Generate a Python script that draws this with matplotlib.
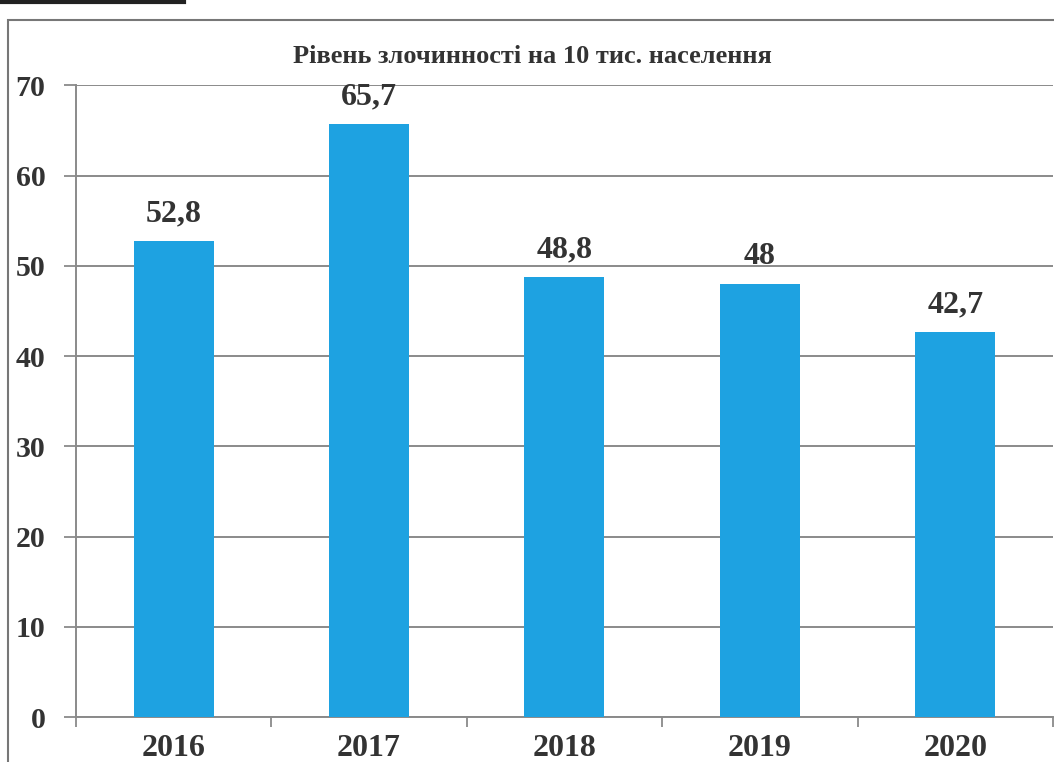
import matplotlib
matplotlib.use("Agg")
import matplotlib.pyplot as plt
from matplotlib.patches import Rectangle
from matplotlib.lines import Line2D

years = ["2016", "2017", "2018", "2019", "2020"]
values = [52.8, 65.7, 48.8, 48.0, 42.7]
value_labels = ["52,8", "65,7", "48,8", "48", "42,7"]
yticks = [0, 10, 20, 30, 40, 50, 60, 70]
title = "Рівень злочинності на 10 тис. населення"

plt.rcParams['font.family'] = ['Liberation Serif', 'DejaVu Serif']
txt = '#333333'
grid_c = '#8a8a8a'
bar_c = '#1ea2e1'

fig = plt.figure(figsize=(10.54, 7.62), dpi=100)
ax = fig.add_axes([0.072, 0.059, 0.927, 0.829])

x = list(range(len(years)))
ax.bar(x, values, width=0.41, color=bar_c, zorder=3)
ax.set_xlim(-0.5, 4.5)
ax.set_ylim(0, 70)
ax.set_yticks(yticks)
ax.set_yticklabels([str(t) for t in yticks], fontsize=21.5, fontweight='bold', color=txt)
ax.set_xticks(x)
ax.set_xticklabels(years, fontsize=23, fontweight='bold', color=txt)
ax.tick_params(axis='x', length=0, pad=12)
ax.set_xticks([i + 0.5 for i in range(-1, 5)], minor=True)
ax.tick_params(axis='x', which='minor', length=7, color=grid_c, width=1.3, direction='out')
ax.tick_params(axis='y', length=9, color=grid_c, width=1.3, pad=13)
ax.grid(axis='y', color=grid_c, linewidth=1.4, zorder=0)
for s in ['top', 'right']:
    ax.spines[s].set_visible(False)
for s in ['left', 'bottom']:
    ax.spines[s].set_color(grid_c)
    ax.spines[s].set_linewidth(1.4)

for xi, v, lab in zip(x, values, value_labels):
    ax.annotate(lab, (xi, v), xytext=(0, 9), textcoords='offset points',
                ha='center', va='bottom', fontsize=23, fontweight='bold', color=txt)

fig.text(0.505, 0.926, title, ha='center', va='center', fontsize=19,
         fontweight='bold', color=txt)

# outer chart border
fig.add_artist(Rectangle((0.008, -0.01), 1.0, 0.984, transform=fig.transFigure,
                         fill=False, edgecolor='#777777', linewidth=1.5))
fig.add_artist(Line2D([0, 0.175], [0.998, 0.998], transform=fig.transFigure,
                      color='#222222', linewidth=3))

fig.savefig("out.png", dpi=100)
